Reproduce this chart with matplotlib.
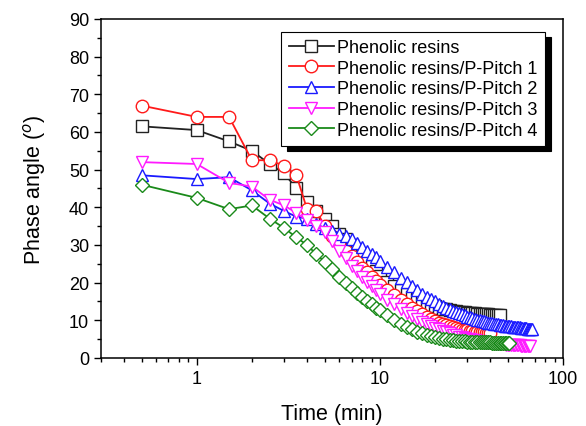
import numpy as np
import matplotlib
matplotlib.use("Agg")
import matplotlib.pyplot as plt
from matplotlib.ticker import FixedLocator, NullFormatter, MultipleLocator

plt.rcParams["font.family"] = ["Liberation Sans", "DejaVu Sans"]

# sampling times (min): every 0.5 min up to 10, then every minute
time_min = [0.5, 1, 1.5, 2, 2.5, 3, 3.5, 4, 4.5, 5,
            5.5, 6, 6.5, 7, 7.5, 8, 8.5, 9, 9.5, 10] + list(range(11, 69))

phenolic = [61.5, 60.5, 57.5, 55, 51.5, 49, 45, 41.5, 39, 37,
            35, 33, 31.5, 30, 28.5, 27, 25.5, 24.3, 23, 21.8,
            20.2, 19, 18, 17.1, 16.3, 15.6, 15, 14.5, 14.1, 13.7,
            13.4, 13.1, 12.9, 12.7, 12.5, 12.4, 12.3, 12.2, 12.1, 12.0,
            11.95, 11.9, 11.85, 11.8, 11.75, 11.7, 11.65, 11.6, 11.55, 11.5,
            11.5, 11.45, 11.4, 11.4, 11.35]

pitch1 = [67, 64, 64, 52.5, 52.5, 51, 48.5, 39.5, 39, 35,
          32.5, 30.5, 28.5, 27, 25.5, 24, 22.7, 21.5, 20.5, 19.5,
          18, 16.6, 15.4, 14.3, 13.3, 12.5, 11.7, 11, 10.4, 9.9,
          9.4, 9, 8.7, 8.4, 8.1, 7.9, 7.7, 7.5, 7.4, 7.3,
          7.2, 7.1, 7.0, 6.95, 6.9, 6.85, 6.8, 6.75, 6.7, 6.7]

pitch2 = [48.5, 47.5, 48, 44.5, 41, 39, 37.5, 37, 35.5, 34.5,
          33.8, 33, 32.3, 31.5, 30.5, 29.5, 28.5, 27.6, 26.7, 25.8,
          24.2, 22.7, 21.3, 20.1, 19, 18, 17.1, 16.3, 15.6, 15,
          14.4, 13.9, 13.4, 13, 12.6, 12.2, 11.9, 11.6, 11.3, 11.0,
          10.8, 10.6, 10.4, 10.2, 10.0, 9.85, 9.7, 9.55, 9.4, 9.3,
          9.2, 9.1, 9.0, 8.9, 8.8, 8.75, 8.7, 8.6, 8.55, 8.5,
          8.45, 8.4, 8.35, 8.3, 8.25, 8.2, 8.15, 8.1, 8.05, 8.0,
          7.95, 7.9, 7.85, 7.8, 7.8, 7.75, 7.7, 7.7]

pitch3 = [52, 51.5, 46.5, 45.5, 42, 40.5, 38.5, 36.5, 35, 33.5,
          31, 28.5, 26.5, 24.5, 23, 21.5, 20.2, 19, 18, 17,
          15.5, 14.2, 13, 12, 11.1, 10.3, 9.6, 9.0, 8.5, 8.0,
          7.6, 7.2, 6.8, 6.5, 6.2, 6.0, 5.7, 5.5, 5.3, 5.1,
          4.95, 4.8, 4.65, 4.5, 4.4, 4.3, 4.2, 4.1, 4.0, 3.95,
          3.9, 3.85, 3.8, 3.75, 3.7, 3.65, 3.6, 3.6, 3.55, 3.5,
          3.5, 3.45, 3.45, 3.4, 3.4, 3.4, 3.35, 3.35, 3.3, 3.3,
          3.3, 3.3, 3.25, 3.25, 3.2, 3.2]

pitch4 = [46, 42.5, 39.5, 40.5, 37, 34.5, 32, 30, 27.5, 25.5,
          23.5, 21.5, 20, 18.5, 17.2, 16.1, 15.1, 14.2, 13.4, 12.7,
          11.3, 10.1, 9.1, 8.3, 7.6, 7.0, 6.5, 6.1, 5.8, 5.5,
          5.3, 5.1, 4.95, 4.8, 4.7, 4.6, 4.5, 4.45, 4.4, 4.35,
          4.3, 4.3, 4.25, 4.25, 4.2, 4.2, 4.2, 4.15, 4.15, 4.15,
          4.1, 4.1, 4.1, 4.1, 4.05, 4.05, 4.05, 4.0, 4.0, 4.0, 4.0]

labels = ["Phenolic resins", "Phenolic resins/P-Pitch 1", "Phenolic resins/P-Pitch 2",
          "Phenolic resins/P-Pitch 3", "Phenolic resins/P-Pitch 4"]
series = [phenolic, pitch1, pitch2, pitch3, pitch4]
colors = ["#222222", "#ff1a1a", "#1a1aff", "#ff1aff", "#1a8a1a"]
markers = ["s", "o", "^", "v", "D"]
sizes = [8, 9, 9, 9, 7.5]

fig = plt.figure(figsize=(5.86, 4.27), dpi=100)
ax = fig.add_axes([0.1724, 0.1593, 0.7884, 0.7939])

for vals, lab, col, mk, ms in zip(series, labels, colors, markers, sizes):
    t = time_min[:len(vals)]
    ax.plot(t, vals, color=col, lw=1.3, marker=mk, ms=ms, mfc="white",
            mec=col, mew=1.0, label=lab)

ax.set_xscale("log")
ax.set_xlim(0.3, 100)
ax.set_ylim(0, 90)
ax.xaxis.set_major_locator(FixedLocator([1, 10, 100]))
ax.set_xticklabels(["1", "10", "100"])
minor = [m * d for d in (0.1, 1, 10) for m in range(2, 10)]
ax.xaxis.set_minor_locator(FixedLocator([v for v in minor if 0.3 <= v <= 100]))
ax.xaxis.set_minor_formatter(NullFormatter())
ax.yaxis.set_major_locator(MultipleLocator(10))
ax.yaxis.set_minor_locator(MultipleLocator(5))

ax.tick_params(which="both", direction="out", top=False, right=False,
               labelsize=13, width=1.0)
ax.tick_params(which="major", length=5)
ax.tick_params(which="minor", length=3)
for sp in ax.spines.values():
    sp.set_linewidth(1.1)

ax.set_xlabel("Time (min)", fontsize=15.5, labelpad=12)
ax.set_ylabel("Phase angle ($^{o}$)", fontsize=15.5, labelpad=15)

leg = ax.legend(loc="upper right", bbox_to_anchor=(0.961, 0.962), borderaxespad=0,
                fontsize=13, frameon=True, fancybox=False, edgecolor="black",
                shadow={"color": "black", "alpha": 1, "ox": 4, "oy": -4},
                handlelength=2.5, labelspacing=0.2, borderpad=0.4,
                handletextpad=0.2)
leg.get_frame().set_linewidth(0.8)

fig.savefig("out.png", dpi=100)
